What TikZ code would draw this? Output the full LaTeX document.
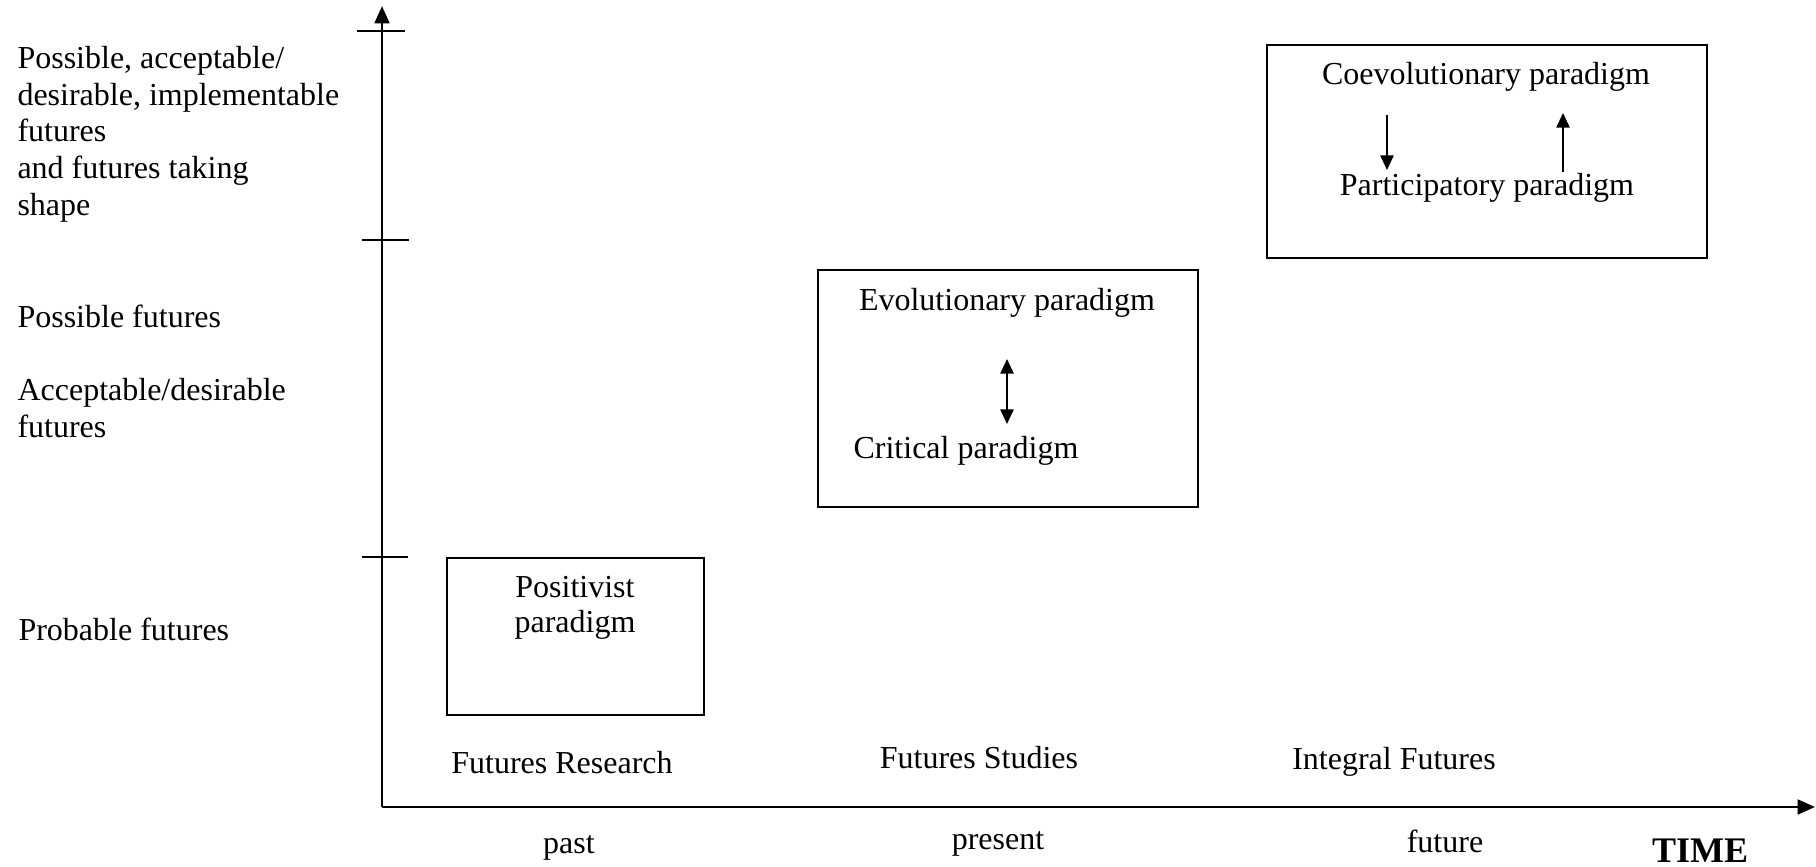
\documentclass[tikz,border=0pt]{standalone}
\usepackage{fontspec}
\setmainfont{Liberation Serif}
\usetikzlibrary{arrows.meta}

\begin{document}
\begin{tikzpicture}[
    x=0.375pt, y=-0.375pt,
    axis/.style={line width=1.05pt, -{Triangle[length=6.5pt,width=5.5pt]}},
    tickmark/.style={line width=0.95pt},
    pbox/.style={rectangle, draw, line width=0.7pt, inner sep=0pt, outer sep=0pt},
    parrow/.style={line width=0.65pt, -{Triangle[length=5.5pt,width=5pt]}},
    lbl/.style={inner sep=0pt, font=\fontsize{12}{13.7}\selectfont},
    ylbl/.style={lbl, anchor=base west, align=left},
    xlbl/.style={lbl, anchor=base}
]
\useasboundingbox (0,0) rectangle (1816,867);

% axes
\coordinate (orig) at (382,807);
\coordinate (ytop) at (382,6);
\coordinate (xend) at (1815,807);
\draw[axis] (orig) -- (ytop);
\draw[axis] (orig) -- (xend);

% ticks on the vertical axis
\draw[tickmark] (357,31) -- (405,31);
\draw[tickmark] (362,240) -- (409,240);
\draw[tickmark] (362,557) -- (408,557);

% kinds of futures (base = last line)
\node[ylbl] (fimpl) at (17,215) {Possible, acceptable/\\desirable, implementable\\futures\\and futures taking\\shape};
\node[ylbl] (fposs) at (17,327) {Possible futures};
\node[ylbl] (facc)  at (17,437) {Acceptable/desirable\\futures};
\node[ylbl] (fprob) at (18,640) {Probable futures};

% paradigm boxes
\node[pbox, minimum width=96.4pt, minimum height=58.9pt] (posbox) at (575.5,636.5) {};
\node[pbox, minimum width=142.5pt, minimum height=88.9pt] (evobox) at (1008,388.5) {};
\node[pbox, minimum width=165pt, minimum height=79.9pt] (coebox) at (1487,151.5) {};

\node[xlbl, align=center, font=\fontsize{12}{13.1}\selectfont] (positivist) at (575,632) {Positivist\\paradigm};
\node[xlbl] (evolutionary) at (1007,310) {Evolutionary paradigm};
\node[xlbl] (critical) at (966,458) {Critical paradigm};
\node[xlbl] (coevolutionary) at (1486,85) {Coevolutionary paradigm};
\node[xlbl] (participatory) at (1487,195) {Participatory paradigm};

% arrows between paradigms
\coordinate (evoarr) at (1007,359);
\coordinate (critarr) at (1007,424);
\draw[parrow, {Triangle[length=5.5pt,width=5pt]}-{Triangle[length=5.5pt,width=5pt]}] (evoarr) -- (critarr);

\coordinate (coedown) at (1387,115);
\coordinate (partdown) at (1387,170);
\coordinate (partup) at (1563,172);
\coordinate (coeup) at (1563,113);
\draw[parrow] (coedown) -- (partdown);
\draw[parrow] (partup) -- (coeup);

% fields along the time axis
\node[xlbl] (research) at (562,773) {Futures Research};
\node[xlbl] (studies)  at (979,768) {Futures Studies};
\node[xlbl] (integral) at (1394,769) {Integral Futures};

\node[xlbl] (past)    at (569,853) {past};
\node[xlbl] (present) at (998,849) {present};
\node[xlbl] (future)  at (1445,852) {future};
\node[xlbl, font=\fontsize{13.5}{16}\selectfont\bfseries] (time) at (1700,862) {TIME};

\end{tikzpicture}
\end{document}
